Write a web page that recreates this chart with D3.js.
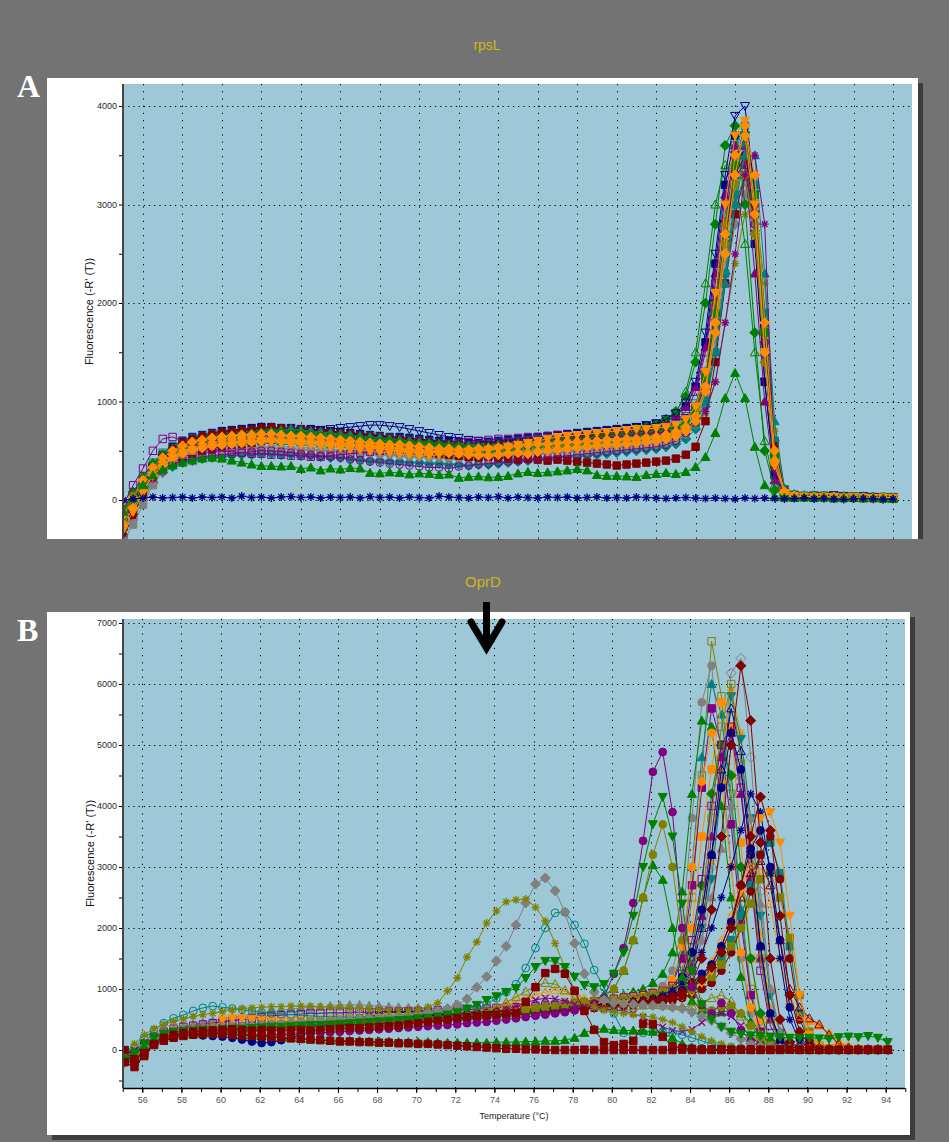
<!DOCTYPE html>
<html><head><meta charset="utf-8">
<script src="https://cdn.jsdelivr.net/npm/d3@7"></script>
<style>body{margin:0;background:#737373;}svg{display:block}</style>
</head><body>
<svg id="c" width="949" height="1142"></svg>
<script>
// ---------- categories / axis values ----------
const tempsA = [55,55.5,56,56.5,57,57.5,58,58.5,59,59.5,60,60.5,61,61.5,62,62.5,63,63.5,64,64.5,65,65.5,66,66.5,67,67.5,68,68.5,69,69.5,70,70.5,71,71.5,72,72.5,73,73.5,74,74.5,75,75.5,76,76.5,77,77.5,78,78.5,79,79.5,80,80.5,81,81.5,82,82.5,83,83.5,84,84.5,85,85.5,86,86.5,87,87.5,88,88.5,89,89.5,90,90.5,91,91.5,92,92.5,93,93.5,94];
const tempsB = [55.1,55.6,56.1,56.6,57.1,57.6,58.1,58.6,59.1,59.6,60.1,60.6,61.1,61.6,62.1,62.6,63.1,63.6,64.1,64.6,65.1,65.6,66.1,66.6,67.1,67.6,68.1,68.6,69.1,69.6,70.1,70.6,71.1,71.6,72.1,72.6,73.1,73.6,74.1,74.6,75.1,75.6,76.1,76.6,77.1,77.6,78.1,78.6,79.1,79.6,80.1,80.6,81.1,81.6,82.1,82.6,83.1,83.6,84.1,84.6,85.1,85.6,86.1,86.6,87.1,87.6,88.1,88.6,89.1,89.6,90.1,90.6,91.1,91.6,92.1,92.6,93.1,93.6,94.1];
const xTickLabels = [56,58,60,62,64,66,68,70,72,74,76,78,80,82,84,86,88,90,92,94];
const xMinorTicks = [55,56,57,58,59,60,61,62,63,64,65,66,67,68,69,70,71,72,73,74,75,76,77,78,79,80,81,82,83,84,85,86,87,88,89,90,91,92,93,94,95];
const yTicksA = [0,1000,2000,3000,4000];
const yMinorA = [500,1500,2500,3500];
const yTicksB = [0,1000,2000,3000,4000,5000,6000,7000];
const yMinorB = [-500,500,1500,2500,3500,4500,5500,6500];

// ---------- panel A (rpsL) series values ----------
const aNtc = [0,10,20,30,20,25,30,20,30,25,30,20,40,25,30,20,30,35,25,30,20,30,25,30,20,35,25,30,20,30,25,20,40,30,25,20,30,25,35,20,30,25,20,30,25,30,20,25,30,20,25,20,30,25,20,15,20,25,20,15,20,15,10,20,15,20,15,10,15,20,10,15,10,5,10,15,10,5,10];
const aGreenTri = [-120,20,150,250,310,350,380,400,420,430,420,400,380,360,345,345,340,345,315,330,300,320,310,325,320,275,270,280,275,260,270,265,255,260,225,235,240,230,235,244,270,284,275,280,290,300,315,300,254,245,245,240,234,254,264,274,264,284,335,437,680,1035,1290,1035,540,150,30,25,20,25,20,25,15,20,20,15,20,15,10];
const aOrangeDiamond = [-250,-80,100,250,350,420,470,510,530,550,560,570,580,590,600,610,600,605,600,590,585,580,570,560,555,550,540,530,520,510,500,495,490,480,470,460,455,450,460,470,480,470,490,500,510,520,530,540,550,560,560,570,580,590,600,620,650,700,800,1100,1700,2500,3300,3800,3300,1800,500,80,40,30,30,25,30,20,25,20,15,20,15];
const aOrangeDiamond2 = [-150,20,200,330,430,500,550,590,610,630,640,650,660,660,670,670,660,650,650,640,630,620,610,600,590,580,570,560,560,550,540,530,520,520,510,510,520,520,530,540,550,560,570,570,580,590,590,600,600,610,610,620,620,630,640,660,690,740,850,1150,1800,2700,3500,3700,2900,1500,400,80,40,30,30,30,25,25,20,20,20,15,15];
const aNavyITri = [-200,-50,120,280,400,480,540,580,600,620,640,650,660,670,680,690,690,680,690,680,670,660,650,650,640,630,620,610,600,590,580,570,560,560,550,540,540,550,560,570,580,590,600,610,600,620,630,640,650,660,660,670,680,690,700,720,760,830,950,1300,2000,2800,3500,3700,2700,1200,250,60,40,35,30,35,25,30,20,25,30,20,25];
const aRedSq = [-380,-150,50,200,300,380,430,470,500,520,540,560,570,580,600,610,620,630,620,610,600,590,580,560,550,540,530,520,510,500,490,480,470,460,450,440,430,440,430,420,410,420,410,400,410,400,390,380,370,360,350,360,370,380,390,400,420,460,540,800,1400,2200,2900,3300,2900,1700,500,100,50,40,40,35,30,30,25,30,20,25,20];
const aPurpleTri = [-150,20,180,330,430,500,560,600,620,640,660,670,680,690,700,710,700,690,690,680,670,660,640,630,620,610,600,600,590,580,570,560,560,550,540,540,550,560,570,580,590,600,610,620,620,630,640,650,660,680,690,700,720,740,760,800,860,950,1150,1550,2300,3100,3600,3400,2300,1000,200,60,40,30,35,30,25,30,25,20,25,20,20];
const aTealSq = [-200,-30,150,300,400,460,510,550,570,590,610,620,630,640,650,660,670,660,650,640,630,620,610,600,590,580,570,560,550,540,530,520,510,500,490,480,480,470,480,490,500,510,500,520,530,540,540,550,560,570,580,590,600,610,620,640,660,700,780,1000,1500,2300,3100,3600,3200,1900,600,100,50,40,40,45,35,40,30,35,30,25,30];
const aOliveDiamond = [-100,60,200,330,420,480,520,550,570,580,600,610,620,630,620,630,640,630,620,610,600,590,590,580,570,570,560,550,540,530,520,510,500,500,490,480,480,490,500,510,520,530,540,550,560,560,570,580,580,590,600,610,620,640,660,690,730,800,950,1300,2000,2800,3400,3500,2700,1400,350,70,40,30,30,25,30,25,20,25,20,20,15];
const aGraySq = [-420,-250,-50,150,300,400,460,500,530,550,570,580,590,600,610,620,620,610,600,600,590,580,570,560,550,550,540,530,520,520,510,500,500,490,480,480,470,470,480,490,500,500,510,520,520,530,540,550,560,560,570,580,590,600,620,640,670,720,820,1100,1700,2500,3200,3500,3000,1700,500,90,50,40,40,35,30,35,30,25,30,25,20];
const aGreenDiamond = [-100,80,230,370,460,520,570,610,630,650,670,690,700,710,720,730,720,720,710,700,690,680,670,660,650,640,630,620,610,600,590,580,570,560,560,550,550,560,560,570,580,590,600,610,620,630,640,650,670,680,690,700,720,740,770,820,900,1050,1400,2000,2800,3600,3800,3000,1700,500,100,50,40,30,30,35,30,25,30,20,25,20,20];
const aNavyOITri = [-150,20,170,320,420,480,530,560,590,600,620,630,640,650,660,670,680,690,700,710,710,720,730,740,750,760,760,750,740,720,700,680,660,640,630,610,600,590,580,570,570,580,590,600,610,620,640,660,680,700,710,720,740,760,780,820,880,990,1200,1700,2500,3300,3900,4000,3100,1500,300,70,50,40,45,40,50,40,35,40,30,30,25];
const aPurpleOSq = [-50,150,320,500,620,640,600,560,530,510,500,490,480,470,470,460,460,450,450,440,440,450,460,470,480,490,500,510,520,530,540,550,560,570,580,590,600,610,620,620,630,640,640,650,660,660,650,640,640,650,660,670,680,700,720,750,800,900,1100,1500,2200,3000,3500,3600,2900,1500,400,80,50,40,40,35,40,30,35,30,25,30,25];
const aPurpleOCircle = [-200,-60,100,220,300,360,400,420,440,450,460,470,480,490,500,500,490,480,470,460,450,440,430,410,400,390,380,370,360,350,340,330,330,320,340,350,360,370,380,390,400,410,420,430,440,450,460,470,480,490,500,510,520,530,540,560,600,680,850,1200,1900,2700,3300,3400,2800,1600,500,90,40,30,30,25,30,20,25,30,20,20,15];
const aOrangeITri = [-300,-120,80,250,360,430,480,510,540,560,580,590,600,610,600,590,580,570,560,560,550,540,530,520,510,500,490,480,470,460,450,450,460,470,480,490,500,510,520,540,560,580,600,620,640,650,660,670,680,690,700,710,720,720,730,740,760,820,950,1300,2100,3000,3700,3850,3000,1500,350,70,40,35,30,35,30,25,30,25,20,25,20];
const aRedCircle = [-200,0,170,320,440,520,580,620,650,670,690,700,710,720,730,740,730,720,720,710,700,690,680,670,660,650,640,630,620,610,600,590,580,570,560,550,540,540,550,560,570,580,590,600,610,620,630,640,650,660,670,680,690,700,710,730,760,820,950,1250,1900,2700,3300,3500,3000,1800,550,100,50,40,35,40,30,35,30,25,30,20,25];
const aTealTri = [-180,10,180,330,430,500,550,590,610,630,650,660,670,680,690,700,710,720,710,700,690,680,670,660,650,640,630,620,610,600,590,580,570,560,550,550,540,540,550,560,570,580,590,600,610,610,620,630,640,650,660,670,680,690,700,710,730,770,850,1050,1500,2200,3000,3500,3500,2300,800,120,60,50,50,45,40,40,35,40,30,30,25];
const aOliveCircle = [-120,40,200,320,400,450,490,520,540,560,570,580,590,600,600,610,610,600,600,590,580,570,560,550,550,540,530,530,520,510,500,500,490,490,480,480,490,490,500,510,520,520,530,540,550,550,560,570,570,580,590,600,610,620,630,650,680,740,860,1150,1800,2600,3200,3300,2700,1500,400,80,40,30,30,30,25,25,20,25,20,20,15];
const aGreenSq = [-250,-80,120,290,400,470,520,560,580,600,620,630,650,660,670,680,680,670,670,660,650,640,630,620,610,600,590,590,580,570,560,560,550,540,540,530,530,520,530,540,550,560,570,580,590,600,600,610,620,630,640,650,660,670,690,710,740,800,920,1250,1900,2700,3400,3700,3100,1700,450,80,50,40,40,35,40,30,35,30,25,30,25];
const aPurpleStar = [-150,30,190,330,430,490,530,560,580,600,610,620,630,640,650,650,660,650,640,630,620,610,600,590,580,570,560,550,550,540,530,520,510,510,500,500,510,520,530,540,550,560,570,580,590,600,610,610,620,630,640,650,660,670,680,690,700,730,780,900,1200,1800,2500,3300,3500,2800,300,80,50,40,40,45,40,35,40,30,35,30,30];
const aTealDiamond = [-300,-150,30,180,280,340,380,400,420,430,440,450,460,460,470,470,460,460,450,450,440,430,430,420,410,400,400,390,390,380,380,370,370,360,360,350,360,360,370,380,390,400,410,420,430,440,440,450,460,470,480,490,500,510,520,540,570,620,720,950,1500,2300,3000,3300,2800,1600,450,80,40,30,30,25,25,20,20,20,15,15,15];
const aNavySq = [-180,0,180,340,460,540,600,640,660,680,700,710,720,730,740,740,730,730,720,720,710,700,690,680,670,660,650,640,640,630,620,610,600,600,590,580,580,590,600,610,620,630,640,650,660,670,680,690,700,710,720,730,740,750,770,800,850,950,1150,1600,2400,3200,3700,3600,2600,1200,250,60,40,30,35,30,30,25,30,25,20,25,20];
const aGrayDiamond = [-350,-200,0,170,290,370,420,450,470,490,500,510,520,520,530,530,520,520,510,510,500,500,490,480,480,470,460,460,450,440,440,430,430,420,420,410,420,420,430,440,450,460,470,470,480,490,500,500,510,520,530,540,550,560,570,590,620,670,770,1000,1500,2200,2800,3100,2700,1700,600,110,50,40,40,40,35,35,30,30,25,25,20];
const aPurpleSq = [-220,-40,140,300,410,480,530,570,590,610,620,630,640,650,660,660,650,650,640,640,630,620,620,610,600,600,590,580,570,560,550,540,530,530,520,520,530,540,550,560,570,580,590,590,600,610,620,620,630,640,650,660,670,680,690,710,740,790,900,1200,1800,2600,3300,3600,3100,1900,600,110,50,40,40,35,35,30,30,25,30,25,20];
const aOliveStar = [-160,30,190,320,410,470,510,540,560,570,580,590,600,610,610,620,620,610,610,600,590,580,570,560,560,550,540,530,520,510,500,500,490,480,480,470,470,480,490,500,510,520,530,540,540,550,560,570,580,590,600,610,620,630,640,650,670,700,760,880,1200,1800,2400,2900,3000,2200,700,120,50,40,40,40,35,35,30,30,30,25,25];
const aGreenOTri = [-120,50,210,340,430,480,520,540,560,570,580,590,600,600,610,610,600,600,590,590,580,570,570,560,550,540,530,520,510,500,500,490,490,480,480,470,480,480,490,500,510,520,530,540,550,560,570,580,590,600,620,640,660,690,720,780,880,1100,1500,2200,3000,3400,3300,2600,1500,600,150,50,40,30,30,30,25,25,20,20,20,15,15];
const aTealOSq = [-90,80,240,380,480,550,600,630,650,670,680,690,700,710,710,720,720,710,710,700,690,680,670,660,650,650,640,630,620,610,600,590,580,570,570,560,560,570,580,590,600,610,620,630,640,650,660,670,680,690,700,710,720,730,740,760,790,850,980,1300,2000,2900,3600,3800,3200,1800,450,80,40,35,35,35,30,30,25,25,25,20,20];
const aGrayX = [-300,-130,60,220,330,400,440,470,490,500,510,520,530,540,540,550,550,540,540,530,530,520,510,500,500,490,480,470,460,460,450,440,440,430,430,420,430,430,440,450,460,470,480,490,500,510,510,520,530,540,550,560,570,580,600,620,650,700,800,1050,1600,2400,3000,3200,2800,1600,500,90,50,40,40,35,35,30,30,30,25,25,20];

// ---------- panel B (OprD) series values ----------
const bOliveStar = [-50,100,250,350,420,470,510,550,580,600,630,660,680,690,700,710,710,720,720,720,710,700,700,690,680,670,660,650,650,650,660,705,770,967,1180,1525,1770,2080,2280,2430,2460,2475,2340,2115,1750,1350,980,800,700,650,620,600,580,560,540,500,450,380,300,220,150,100,60,40,30,20,20,15,10,10,10,15,10,5,10,5,10,5,5];
const bGrayDiamond = [-200,-120,60,180,250,290,320,340,350,360,370,380,390,400,410,420,430,440,450,460,470,480,490,500,510,520,530,540,560,580,600,620,640,680,740,836,1030,1200,1460,1700,2050,2410,2720,2820,2610,2260,1750,1250,950,820,780,760,750,740,730,720,700,680,620,550,480,380,280,180,100,60,40,30,20,15,10,10,5,10,5,5,10,5,5];
const bTealOCircle = [-100,50,200,330,440,520,575,640,690,720,700,680,660,640,620,600,590,580,570,560,550,550,540,540,530,530,520,520,520,520,520,520,530,540,560,600,660,750,850,950,1080,1345,1670,2000,2250,2260,2050,1740,1310,1030,600,280,260,280,300,290,280,250,200,150,100,60,40,30,20,20,15,10,10,10,10,5,5,10,5,5,5,5,5];
const bGreenITri = [-150,-50,100,200,260,290,310,320,330,330,340,350,350,360,370,380,380,390,400,410,410,420,430,440,450,460,470,480,490,500,520,530,550,580,620,680,740,820,880,950,1015,1180,1360,1460,1460,1360,1200,1065,1030,1080,1250,1600,2200,3000,3700,4150,3500,2400,1300,750,500,380,300,260,240,230,220,210,200,200,200,190,180,210,220,210,230,200,130];
const bRedSq1 = [-200,-280,-100,100,200,250,280,300,310,320,330,340,330,320,330,320,310,320,330,320,330,340,350,360,360,370,380,390,400,420,440,460,480,500,520,540,560,570,580,590,600,790,1030,1260,1330,1250,970,640,330,130,80,100,150,430,420,215,60,30,20,10,10,10,5,5,10,5,5,10,5,5,5,5,5,5,5,5,5,5,5];
const bRedSq2 = [0,-150,-50,80,150,200,230,250,260,270,260,250,240,230,220,210,200,190,180,170,160,150,140,140,130,130,120,120,110,110,100,100,90,80,70,60,50,40,30,20,20,10,10,5,0,0,0,5,0,0,0,0,5,0,0,0,0,5,0,0,0,0,0,5,0,0,0,0,5,0,0,0,0,0,0,0,0,0,0];
const bGreenTri2 = [-150,-100,60,150,200,230,250,260,270,270,270,260,250,240,230,220,210,200,190,180,170,160,160,150,150,140,140,140,130,130,130,130,120,120,120,120,120,120,130,130,130,140,140,150,150,160,200,280,340,350,330,320,320,310,300,280,200,100,40,20,10,10,5,5,5,5,5,5,5,5,5,5,5,5,5,5,5,5,5];
const bOliveOSq = [-100,-180,30,170,250,290,320,340,350,360,370,380,390,400,410,420,430,440,440,450,450,460,460,470,470,480,480,490,490,500,500,510,510,520,530,540,550,560,570,580,590,600,610,620,640,650,670,690,700,720,740,760,780,800,850,900,1000,1300,2500,4500,6700,5800,4200,2400,1000,350,100,40,20,10,10,10,5,5,10,5,5,5,5];
const bGrayCircle = [-200,-250,-80,100,200,250,280,300,310,320,280,270,260,250,250,260,270,280,290,300,310,320,330,340,350,360,370,380,390,400,420,440,460,480,500,520,540,560,580,600,640,660,680,700,720,740,760,780,800,820,840,860,880,900,950,1050,1300,2000,3800,5700,6300,4800,3000,1500,600,200,60,30,20,10,10,5,5,10,5,5,5,5,5];
const bTealTri = [-120,-200,0,150,230,270,300,320,330,340,350,360,370,380,380,390,400,410,420,420,430,440,450,460,460,470,480,490,500,500,510,520,530,540,550,560,570,580,590,600,610,620,640,650,670,690,700,720,740,760,780,800,820,850,900,980,1100,1600,3000,4800,6000,5500,4000,2300,900,300,90,40,20,15,10,10,10,5,5,10,5,5,5];
const bOrangeSq = [-150,-220,-30,120,210,260,290,310,320,330,340,350,360,360,370,380,390,390,400,410,420,420,430,440,450,450,460,470,480,490,500,510,510,520,530,540,550,560,570,580,590,600,620,630,650,660,680,700,720,730,750,770,790,810,840,880,950,1200,2000,3500,4600,5700,5300,3400,1500,500,130,50,30,20,15,10,10,10,5,5,10,5,5];
const bPurpleSq = [-80,-150,60,190,260,300,320,330,340,350,350,360,370,370,380,390,400,410,420,430,440,450,460,470,480,490,500,500,510,520,530,540,550,560,560,570,580,590,600,610,620,630,650,660,680,700,710,730,750,770,790,810,830,860,900,960,1080,1500,2700,4300,5600,5000,3700,2100,900,300,80,30,20,10,10,10,5,5,5,5,5,5,5];
const bGreenTri = [-100,-150,40,170,240,280,300,320,330,340,350,360,360,370,380,390,400,400,410,420,430,440,440,450,460,470,480,480,490,500,510,520,530,540,550,560,570,580,600,620,640,660,680,700,720,740,760,780,800,830,860,900,950,1000,1100,1250,1600,2600,4200,5400,5300,4000,2500,1200,450,150,50,30,20,15,10,10,10,5,5,5,5,5,5];
const bGreenDiamond = [-130,-170,20,160,240,280,300,320,330,340,350,350,360,370,370,380,390,400,400,410,420,430,430,440,450,460,470,470,480,490,500,510,520,530,540,550,560,570,580,590,600,610,620,630,650,660,680,700,710,730,750,770,790,810,840,880,940,1100,1600,2700,4200,5000,4500,3000,1500,600,150,50,30,20,15,10,10,5,5,5,5,5,5];
const bOrangeCircle = [-160,-210,-20,130,220,260,290,310,320,330,330,340,350,360,370,380,380,390,400,410,420,430,440,450,450,460,470,480,490,500,510,520,530,540,550,560,570,580,590,600,610,620,630,650,660,680,700,720,740,760,780,800,830,860,900,980,1150,1700,3000,4400,5200,4400,3000,1600,700,250,80,30,20,10,10,10,5,5,5,5,5,5,5];
const bRedDiamond1 = [-150,-200,0,150,230,270,300,310,320,330,340,340,350,360,360,370,380,390,390,400,410,420,420,430,440,450,460,460,470,480,490,500,510,520,530,540,550,560,570,580,590,600,610,620,640,650,670,680,700,720,730,750,770,790,810,840,880,950,1100,1500,2300,3500,5000,6300,5400,3400,1500,500,130,40,20,15,10,10,5,5,5,5,5];
const bGrayODiamond = [-180,-120,50,170,240,280,310,330,340,350,360,370,380,390,400,400,410,420,430,440,450,460,470,480,490,500,500,510,520,530,540,550,560,570,580,590,600,610,620,640,650,660,680,690,700,710,720,730,740,750,720,740,760,780,800,830,870,950,1150,1800,3000,4500,6180,6420,4800,2600,1000,300,80,30,15,10,10,5,5,5,5,5,5];
const bOrangeStar = [-120,-80,80,200,260,300,330,350,360,370,380,390,400,410,420,430,440,450,460,470,480,480,490,500,500,510,520,520,530,540,550,560,570,580,590,600,620,640,660,680,700,720,740,760,780,790,800,810,830,850,870,880,900,920,950,990,1050,1150,1400,2000,3100,4600,5900,5200,3600,1900,700,300,200,300,460,400,250,120,60,30,20,10,10];
const bTealITri = [-100,-160,30,160,230,270,290,310,320,330,340,350,360,370,380,390,400,410,420,430,440,450,460,470,480,490,500,510,520,530,540,550,560,570,580,590,600,610,620,630,640,650,660,670,690,700,720,740,750,770,790,810,830,850,880,920,980,1100,1400,2000,2800,4300,5800,5100,3800,2200,900,280,80,30,15,10,10,5,5,5,5,5,5];
const bNavyOTri = [-100,-140,40,170,240,280,310,330,340,350,360,370,380,390,400,410,420,430,440,450,460,470,480,490,500,510,520,530,540,550,560,570,580,590,600,610,620,630,640,650,660,670,680,690,700,710,720,730,740,750,760,770,780,800,820,850,900,1000,1300,2000,3200,4600,5600,4900,3300,1700,600,170,50,20,10,10,5,5,5,5,5,5,5];
const bPurpleTri = [-110,-150,40,170,240,280,300,320,330,340,350,360,370,380,390,400,410,420,430,440,450,460,470,480,490,500,510,520,530,540,550,560,570,580,590,600,610,620,630,640,650,660,670,690,700,720,730,750,760,780,790,800,820,840,870,900,960,1080,1400,2200,3500,4800,5200,4200,2800,1500,500,150,40,20,10,10,5,5,5,5,5,5,5];
const bGrayTri = [-150,-60,110,230,300,350,390,420,450,480,510,540,560,590,610,630,650,670,690,700,710,720,730,740,740,730,720,710,700,690,690,680,680,680,690,690,700,700,710,720,730,740,750,760,770,780,790,800,810,820,830,840,850,860,880,900,950,1050,1300,1800,2500,3300,4000,4500,3800,2400,1000,300,80,30,15,10,10,5,5,5,5,5,5];
const bNavyCircle1 = [-150,-100,80,180,230,250,260,250,240,230,220,200,170,140,115,130,160,200,250,300,350,400,440,480,520,550,580,600,610,620,620,620,610,600,600,590,590,600,610,620,620,630,640,650,660,670,680,690,700,710,720,740,760,790,830,900,1000,1200,1600,2300,3200,4300,5200,4600,3200,1700,600,150,40,20,10,10,5,5,5,5,5,5,5];
const bPurpleOSq = [-50,-100,100,220,300,350,380,400,420,440,460,480,500,520,540,560,570,580,590,600,600,610,610,620,620,620,630,630,630,640,640,640,650,650,660,660,670,680,690,700,700,710,720,730,740,750,760,780,800,820,840,860,880,900,930,970,1050,1250,1800,2800,4000,5000,5300,4300,2800,1300,400,100,30,15,10,10,5,5,5,5,5,5,5];
const bOliveOSq2 = [-130,-60,90,200,270,310,330,350,360,370,370,380,380,390,400,410,420,430,430,440,450,460,470,480,490,490,500,510,520,530,540,550,560,570,580,590,600,610,620,630,640,650,660,680,690,700,720,730,750,770,780,800,820,840,870,910,970,1100,1500,2400,3800,5300,6000,4700,3000,1500,500,150,40,20,10,10,5,5,5,5,5,5,5];
const bRedDiamond2 = [-100,-180,20,160,240,280,300,320,330,340,350,360,360,370,380,390,400,410,410,420,430,440,450,460,470,480,490,500,500,510,520,530,540,550,560,570,580,590,600,610,620,630,640,650,660,670,680,690,700,720,730,740,750,760,780,800,840,900,1000,1150,1350,1600,2000,2700,3500,4150,3600,2200,900,300,80,30,20,10,10,5,5,5,5];
const bOrangeITri = [-220,-150,40,170,240,280,300,320,330,340,500,520,520,510,500,490,480,480,490,500,500,510,510,520,520,530,530,540,540,550,550,560,560,570,580,590,600,610,620,630,640,650,660,670,680,690,700,710,720,730,740,750,760,770,790,810,840,880,950,1100,1300,1600,2000,2600,3300,3800,3900,3400,2200,900,250,80,30,20,10,10,5,5,5];
const bNavyCircle2 = [-120,-60,100,200,260,290,310,330,340,350,360,370,380,390,400,400,410,420,430,440,450,460,470,480,490,500,510,520,530,540,550,560,570,570,580,590,600,610,620,630,640,650,660,670,680,690,700,710,720,730,740,750,770,790,820,860,910,980,1100,1250,1400,1700,2100,2700,3300,3600,3000,1800,700,200,60,20,10,10,5,5,5,5,5];
const bOliveSq = [-80,-120,60,180,240,270,290,300,310,320,330,340,350,360,370,380,390,400,410,420,430,440,450,460,470,480,490,500,510,520,530,540,550,560,570,580,590,600,610,620,630,640,650,660,680,700,720,740,760,780,800,820,840,860,900,950,1000,1050,1100,1150,1200,1400,1700,2000,2400,2800,2900,2500,1840,900,300,80,30,10,10,5,5,5,5];
const bNavyStar = [-60,-20,120,220,280,310,330,340,350,360,370,380,390,400,410,420,430,440,450,460,470,480,490,500,500,510,520,530,540,550,560,570,580,590,600,610,620,630,640,650,660,670,680,690,700,710,720,730,740,750,760,780,800,820,850,900,980,1100,1300,1600,2000,2500,3000,3600,4200,3900,2900,1500,500,150,50,20,10,10,5,5,5,5,5];
const bRedOTri = [-140,-90,70,190,250,290,310,330,340,350,360,370,380,390,400,410,420,430,440,450,460,470,480,490,500,510,520,530,540,550,560,570,580,590,600,610,620,630,640,650,660,670,680,690,700,710,720,730,740,750,760,780,800,820,840,870,900,950,1050,1200,1400,1700,2100,2500,2900,3100,2700,1800,1000,700,520,420,250,100,40,20,10,5,5];
const bTealSq = [-90,-130,50,170,240,270,290,310,320,330,340,350,360,370,380,390,400,410,420,430,440,450,460,470,480,490,500,510,520,530,540,550,560,570,580,590,600,610,620,630,640,650,660,670,680,690,700,710,720,730,740,750,760,780,800,830,870,930,1020,1150,1300,1500,1800,2200,2700,3200,3400,2900,1700,600,180,60,20,10,5,5,5,5,5];
const bRedCircle = [-170,-230,-40,120,200,250,270,290,300,310,320,330,330,340,350,360,370,380,390,400,410,420,430,440,450,460,470,480,490,500,510,520,530,540,550,560,570,580,590,600,610,620,630,640,650,660,670,680,690,700,710,720,730,740,760,780,810,850,900,1000,1100,1300,1600,2000,2600,3200,3500,2800,1500,500,150,40,20,10,5,5,5,5,5];
const bOrangeOTri = [-120,-70,80,190,250,290,310,330,340,350,360,370,380,390,400,410,420,430,440,450,460,470,480,490,500,510,520,530,540,550,560,570,580,590,600,620,640,660,700,750,800,850,900,950,980,960,900,850,800,780,780,790,800,820,840,870,900,960,1050,1200,1450,1800,2200,2700,3000,2900,2400,1500,800,550,480,400,280,150,60,30,10,5,5];
const bGreenTri3 = [-130,-90,60,170,230,270,290,310,320,330,340,350,350,360,370,380,390,390,400,410,420,420,430,440,450,460,460,470,480,490,500,510,520,530,540,550,560,580,600,620,640,660,680,700,720,740,760,790,830,900,1000,1300,1800,2500,3030,2790,2000,1200,800,650,600,620,650,600,450,250,100,40,20,10,10,5,5,5,5,5,5,5,5];
const bPurpleCircle = [-100,-200,0,140,210,240,260,270,270,270,260,260,250,250,240,240,250,250,260,270,280,290,300,310,320,330,340,350,360,370,380,390,400,410,420,440,450,460,480,500,520,540,560,580,600,620,650,700,760,850,1250,1670,2410,3430,4560,4885,3900,2000,1030,740,600,770,600,330,150,60,30,20,10,10,5,5,5,5,5,5,5,5,5];
const bOliveCircle = [-90,-130,50,170,240,270,290,300,310,320,330,340,340,350,360,370,370,380,390,400,410,420,420,430,440,450,460,470,480,490,500,510,520,530,540,550,560,580,600,620,640,660,680,700,720,740,760,780,810,850,1000,1300,1800,2500,3200,3700,3000,1800,1000,700,650,700,720,600,400,200,80,30,20,10,10,5,5,5,5,5,5,5,5];
const bOliveOTri = [-110,-40,100,200,260,300,320,330,340,350,360,360,370,380,390,400,400,410,420,430,440,440,450,460,470,480,490,490,500,510,520,530,540,550,560,580,600,640,700,780,870,960,1050,1100,1080,980,850,760,720,700,700,710,720,730,740,730,720,710,720,780,850,900,800,550,250,80,30,20,10,10,5,5,5,5,5,5,5,5,5];
const bPurpleX = [-60,0,120,210,270,300,320,330,340,350,350,360,360,370,370,380,380,390,390,400,400,410,410,420,420,430,430,440,440,450,460,470,480,490,500,520,540,570,610,660,720,780,820,850,840,800,750,700,680,670,660,640,600,540,450,380,320,300,340,450,560,600,550,400,220,90,30,10,5,5,5,5,5,5,5,5,5,5,5];

// ---------- series styles (colour / marker) ----------
const C = {navy:'#000080',green:'#008000',red:'#800000',purple:'#800080',teal:'#008080',olive:'#808000',gray:'#808080',orange:'#ff8c00'};
const seriesA = [
  {v:aTealDiamond,c:C.teal,m:'diamond'},{v:aGrayX,c:C.gray,m:'x'},{v:aNavySq,c:C.navy,m:'square'},
  {v:aGrayDiamond,c:C.gray,m:'diamond'},{v:aPurpleSq,c:C.purple,m:'square'},{v:aOliveStar,c:C.olive,m:'star'},
  {v:aGreenOTri,c:C.green,m:'tri',open:true},{v:aTealOSq,c:C.teal,m:'square',open:true},
  {v:aNavyITri,c:C.navy,m:'itri'},{v:aRedSq,c:C.red,m:'square'},{v:aPurpleTri,c:C.purple,m:'tri'},
  {v:aTealSq,c:C.teal,m:'square'},{v:aOliveDiamond,c:C.olive,m:'diamond'},{v:aGraySq,c:C.gray,m:'square'},
  {v:aGreenDiamond,c:C.green,m:'diamond'},{v:aNavyOITri,c:C.navy,m:'itri',open:true},{v:aPurpleOSq,c:C.purple,m:'square',open:true},
  {v:aPurpleOCircle,c:C.purple,m:'circle',open:true},{v:aRedCircle,c:C.red,m:'circle'},{v:aTealTri,c:C.teal,m:'tri'},
  {v:aOliveCircle,c:C.olive,m:'circle'},{v:aGreenSq,c:C.green,m:'square'},{v:aPurpleStar,c:C.purple,m:'star'},
  {v:aOrangeITri,c:C.orange,m:'itri'},{v:aOrangeDiamond2,c:C.orange,m:'diamond'},{v:aOrangeDiamond,c:C.orange,m:'diamond'},
  {v:aGreenTri,c:C.green,m:'tri'},{v:aNtc,c:C.navy,m:'star'}
];
const seriesB = [
  {v:bOliveOSq,c:C.olive,m:'square',open:true},{v:bGrayCircle,c:C.gray,m:'circle'},{v:bTealTri,c:C.teal,m:'tri'},
  {v:bOrangeSq,c:C.orange,m:'square'},{v:bPurpleSq,c:C.purple,m:'square'},{v:bGreenTri,c:C.green,m:'tri'},
  {v:bGreenDiamond,c:C.green,m:'diamond'},{v:bOrangeCircle,c:C.orange,m:'circle'},
  {v:bGrayODiamond,c:C.gray,m:'diamond',open:true},{v:bOrangeStar,c:C.orange,m:'star'},{v:bTealITri,c:C.teal,m:'itri'},
  {v:bNavyOTri,c:C.navy,m:'tri',open:true},{v:bPurpleTri,c:C.purple,m:'tri'},{v:bGrayTri,c:C.gray,m:'tri'},
  {v:bPurpleOSq,c:C.purple,m:'square',open:true},{v:bOliveOSq2,c:C.olive,m:'square',open:true},{v:bNavyCircle1,c:C.navy,m:'circle'},
  {v:bTealSq,c:C.teal,m:'square'},{v:bRedCircle,c:C.red,m:'circle'},{v:bOrangeOTri,c:C.orange,m:'tri',open:true},
  {v:bOliveSq,c:C.olive,m:'square'},{v:bRedOTri,c:C.red,m:'tri',open:true},{v:bNavyStar,c:C.navy,m:'star'},
  {v:bOrangeITri,c:C.orange,m:'itri'},{v:bNavyCircle2,c:C.navy,m:'circle'},{v:bRedDiamond2,c:C.red,m:'diamond'},
  {v:bRedDiamond1,c:C.red,m:'diamond'},{v:bGreenTri3,c:C.green,m:'tri'},{v:bOliveCircle,c:C.olive,m:'circle'},{v:bPurpleCircle,c:C.purple,m:'circle'},
  {v:bOliveOTri,c:C.olive,m:'tri',open:true},{v:bPurpleX,c:C.purple,m:'x'},
  {v:bTealOCircle,c:C.teal,m:'circle',open:true},{v:bGrayDiamond,c:C.gray,m:'diamond'},{v:bOliveStar,c:C.olive,m:'star'},
  {v:bGreenITri,c:C.green,m:'itri'},{v:bGreenTri2,c:C.green,m:'tri'},{v:bRedSq1,c:C.red,m:'square'},{v:bRedSq2,c:C.red,m:'square'}
];

// ---------- drawing ----------
const FONT = "'Liberation Sans', Arial, sans-serif";
const svg = d3.select('#c');
svg.append('rect').attr('width',949).attr('height',1142).attr('fill','#737373');

const markerPath = {
  square:'M-3.7,-3.7h7.4v7.4h-7.4Z',
  circle:'M3.9,0A3.9,3.9 0 1,1 -3.9,0A3.9,3.9 0 1,1 3.9,0Z',
  tri:'M0,-4.5L4.5,3.5L-4.5,3.5Z',
  itri:'M0,4.5L4.5,-3.5L-4.5,-3.5Z',
  diamond:'M0,-5L5,0L0,5L-5,0Z',
  star:'M-4,0H4M0,-4V4M-2.9,-2.9L2.9,2.9M-2.9,2.9L2.9,-2.9',
  x:'M-3.2,-3.2L3.2,3.2M-3.2,3.2L3.2,-3.2'
};

function panel(o){
  svg.append('rect').attr('x',o.box[0]+5).attr('y',o.box[1]+5).attr('width',o.box[2]-o.box[0]).attr('height',o.box[3]-o.box[1]).attr('fill','#3d3d3d');
  svg.append('rect').attr('x',o.box[0]).attr('y',o.box[1]).attr('width',o.box[2]-o.box[0]).attr('height',o.box[3]-o.box[1]).attr('fill','#ffffff');
  if (o.cut) svg.append('rect').attr('x',o.box[0]-2).attr('y',o.cut).attr('width',o.box[2]-o.box[0]+12).attr('height',20).attr('fill','#737373');

  const x = d3.scaleLinear().domain([56,94]).range(o.xr);
  const y = d3.scaleLinear().domain([0,o.yTicks[o.yTicks.length-1]]).range(o.yr);
  const [px0,px1] = o.px, [py0,py1] = o.py;
  const g = svg.append('g');
  g.append('rect').attr('x',px0).attr('y',py0).attr('width',px1-px0).attr('height',py1-py0).attr('fill','#9ec8d7');

  const clipId = 'clip'+o.id;
  svg.append('clipPath').attr('id',clipId).append('rect').attr('x',px0).attr('y',py0).attr('width',px1-px0).attr('height',py1-py0);

  const grid = g.append('g');
  grid.selectAll('line.v').data(xTickLabels).join('line')
    .attr('x1',d=>Math.round(x(d))+0.5).attr('x2',d=>Math.round(x(d))+0.5).attr('y1',py0).attr('y2',py1)
    .attr('stroke','#000').attr('stroke-width',1).attr('stroke-dasharray','1.2,6');
  grid.selectAll('line.h').data(o.yTicks).join('line')
    .attr('x1',px0).attr('x2',px1).attr('y1',d=>Math.round(y(d))+0.5).attr('y2',d=>Math.round(y(d))+0.5)
    .attr('stroke','#000').attr('stroke-width',1).attr('stroke-dasharray','1.2,4');

  const data = g.append('g').attr('clip-path',`url(#${clipId})`);
  const line = d3.line().x(d=>x(d[0])).y(d=>y(d[1]));
  o.series.forEach(s=>{
    const pts = o.temps.map((t,i)=>[t,s.v[i]]).filter(p=>p[1]!==undefined);
    const sg = data.append('g');
    sg.append('path').attr('d',line(pts)).attr('fill','none').attr('stroke',s.c).attr('stroke-width',1);
    const strokeOnly = s.m==='star'||s.m==='x';
    sg.selectAll('path.m').data(pts).join('path')
      .attr('transform',d=>`translate(${x(d[0]).toFixed(1)},${y(d[1]).toFixed(1)})`)
      .attr('d',markerPath[s.m])
      .attr('fill',(s.open||strokeOnly)?'none':s.c)
      .attr('stroke',s.c).attr('stroke-width',strokeOnly?1.3:1);
  });

  const ya = svg.append('g').attr('transform',`translate(${px0},0)`)
    .call(d3.axisLeft(y).tickValues(o.yTicks).tickSize(4).tickSizeOuter(0).tickPadding(2).tickFormat(d3.format('d')));
  ya.select('.domain').remove();
  ya.selectAll('text').attr('font-family',FONT).attr('font-size',9).attr('fill','#2a2a2a');
  ya.selectAll('line').attr('stroke','#000');
  const ym = svg.append('g').attr('transform',`translate(${px0},0)`)
    .call(d3.axisLeft(y).tickValues(o.yMinor.filter(v=>y(v)>py0&&y(v)<py1)).tickSize(4).tickFormat(''));
  ym.select('.domain').remove(); ym.selectAll('line').attr('stroke','#000');
  svg.append('line').attr('x1',px0).attr('x2',px0).attr('y1',py0).attr('y2',py1).attr('stroke','#444').attr('stroke-width',2);

  svg.append('text').attr('transform',`translate(${o.ytx},${(py0+py1)/2}) rotate(-90)`)
    .attr('text-anchor','middle').attr('font-family',FONT).attr('font-size',11).attr('fill','#111')
    .text("Fluorescence (-R' (T))");

  if (o.xAxis){
    const xa = svg.append('g').attr('transform',`translate(0,${py1})`)
      .call(d3.axisBottom(x).tickValues(xTickLabels).tickSize(5).tickSizeOuter(0).tickPadding(4).tickFormat(d3.format('d')));
    xa.select('.domain').remove();
    xa.selectAll('text').attr('font-family',FONT).attr('font-size',9).attr('fill','#555');
    xa.selectAll('line').attr('stroke','#000');
    const xm = svg.append('g').attr('transform',`translate(0,${py1})`)
      .call(d3.axisBottom(x).tickValues(xMinorTicks).tickSize(4).tickFormat(''));
    xm.select('.domain').remove(); xm.selectAll('line').attr('stroke','#000');
    svg.append('line').attr('x1',px0).attr('x2',px1).attr('y1',py1+0.5).attr('y2',py1+0.5).attr('stroke','#000').attr('stroke-width',1.5);
    svg.append('text').attr('x',(px0+px1)/2).attr('y',py1+31).attr('text-anchor','middle')
      .attr('font-family',FONT).attr('font-size',9).attr('fill','#222').text('Temperature (°C)');
  }
}

panel({id:'A', box:[47,78,918,539], cut:539, xr:[143,893], yr:[500,106], px:[123,912], py:[84,539],
  yTicks:yTicksA, yMinor:yMinorA, temps:tempsA, series:seriesA, ytx:93, xAxis:false});
panel({id:'B', box:[47,612,910,1135], xr:[142.3,885.7], yr:[1050,623], px:[123,905], py:[619,1088],
  yTicks:yTicksB, yMinor:yMinorB, temps:tempsB, series:seriesB, ytx:94, xAxis:true});

svg.append('text').attr('x',487).attr('y',50).attr('text-anchor','middle').attr('font-family',FONT)
  .attr('font-size',14).attr('fill','#cbb81c').text('rpsL');
svg.append('text').attr('x',483).attr('y',587).attr('text-anchor','middle').attr('font-family',FONT)
  .attr('font-size',15).attr('fill','#cbb81c').text('OprD');
svg.append('text').attr('x',17).attr('y',97).attr('font-family',"'Liberation Serif','Times New Roman',serif")
  .attr('font-weight','bold').attr('font-size',32).attr('fill','#fff').text('A');
svg.append('text').attr('x',17).attr('y',641).attr('font-family',"'Liberation Serif','Times New Roman',serif")
  .attr('font-weight','bold').attr('font-size',32).attr('fill','#fff').text('B');
svg.append('path').attr('d','M486.5,602V646').attr('stroke','#000').attr('stroke-width',7).attr('fill','none');
svg.append('path').attr('d','M471,622L486.5,648L502,622').attr('stroke','#000').attr('stroke-width',7)
  .attr('fill','none').attr('stroke-linecap','round').attr('stroke-linejoin','miter');
</script>
</body></html>
